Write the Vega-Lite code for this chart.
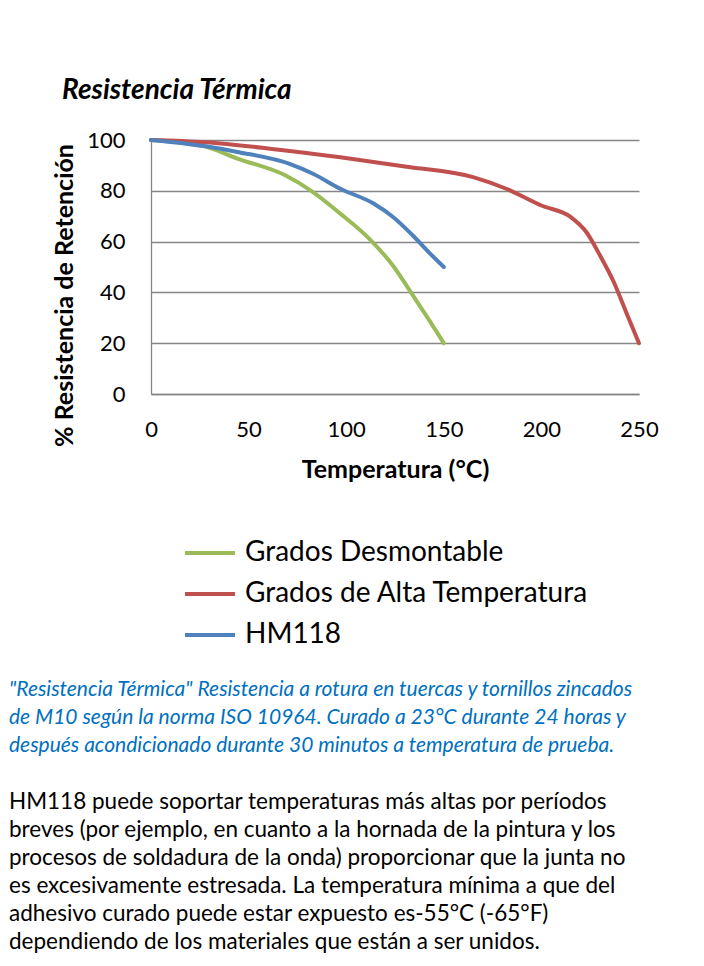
{
  "$schema": "https://vega.github.io/schema/vega-lite/v6.json",
  "autosize": {"type": "pad"},
  "padding": {"left": 9, "top": 77, "right": 10, "bottom": 8},
  "background": "white",
  "bounds": "flush",
  "spacing": 282,
  "datasets": {
    "curvas": [
      {"serie": "Grados Desmontable", "temperatura": 0, "retencion": 100},
      {"serie": "Grados Desmontable", "temperatura": 26, "retencion": 97.8},
      {"serie": "Grados Desmontable", "temperatura": 45, "retencion": 92.5},
      {"serie": "Grados Desmontable", "temperatura": 69, "retencion": 86},
      {"serie": "Grados Desmontable", "temperatura": 83, "retencion": 79.5},
      {"serie": "Grados Desmontable", "temperatura": 97, "retencion": 71},
      {"serie": "Grados Desmontable", "temperatura": 112, "retencion": 61},
      {"serie": "Grados Desmontable", "temperatura": 124, "retencion": 50.5},
      {"serie": "Grados Desmontable", "temperatura": 134, "retencion": 39},
      {"serie": "Grados Desmontable", "temperatura": 143, "retencion": 28.5},
      {"serie": "Grados Desmontable", "temperatura": 150, "retencion": 20},
      {"serie": "Grados de Alta Temperatura", "temperatura": 0, "retencion": 100},
      {"serie": "Grados de Alta Temperatura", "temperatura": 28, "retencion": 99.1},
      {"serie": "Grados de Alta Temperatura", "temperatura": 62, "retencion": 96.5},
      {"serie": "Grados de Alta Temperatura", "temperatura": 97, "retencion": 93.2},
      {"serie": "Grados de Alta Temperatura", "temperatura": 131, "retencion": 89.5},
      {"serie": "Grados de Alta Temperatura", "temperatura": 165, "retencion": 85.4},
      {"serie": "Grados de Alta Temperatura", "temperatura": 182, "retencion": 80.8},
      {"serie": "Grados de Alta Temperatura", "temperatura": 200, "retencion": 74.2},
      {"serie": "Grados de Alta Temperatura", "temperatura": 215, "retencion": 69.7},
      {"serie": "Grados de Alta Temperatura", "temperatura": 223, "retencion": 63.8},
      {"serie": "Grados de Alta Temperatura", "temperatura": 230, "retencion": 54.6},
      {"serie": "Grados de Alta Temperatura", "temperatura": 237, "retencion": 44.2},
      {"serie": "Grados de Alta Temperatura", "temperatura": 244, "retencion": 31.1},
      {"serie": "Grados de Alta Temperatura", "temperatura": 250, "retencion": 20},
      {"serie": "HM118", "temperatura": 0, "retencion": 100},
      {"serie": "HM118", "temperatura": 28, "retencion": 97.5},
      {"serie": "HM118", "temperatura": 45, "retencion": 95.2},
      {"serie": "HM118", "temperatura": 71, "retencion": 90.6},
      {"serie": "HM118", "temperatura": 83, "retencion": 86.7},
      {"serie": "HM118", "temperatura": 97, "retencion": 80.8},
      {"serie": "HM118", "temperatura": 114, "retencion": 75},
      {"serie": "HM118", "temperatura": 124, "retencion": 69.7},
      {"serie": "HM118", "temperatura": 134, "retencion": 62.5},
      {"serie": "HM118", "temperatura": 143, "retencion": 55.3},
      {"serie": "HM118", "temperatura": 150, "retencion": 50}
    ],
    "textos": [
      {"linea": 0, "tipo": "nota", "texto": "\"Resistencia Térmica\" Resistencia a rotura en tuercas y tornillos zincados"},
      {"linea": 1, "tipo": "nota", "texto": "de M10 según la norma ISO 10964. Curado a 23°C durante 24 horas y"},
      {"linea": 2, "tipo": "nota", "texto": "después acondicionado durante 30 minutos a temperatura de prueba."},
      {"linea": 4, "tipo": "parrafo", "texto": "HM118 puede soportar temperaturas más altas por períodos"},
      {"linea": 5, "tipo": "parrafo", "texto": "breves (por ejemplo, en cuanto a la hornada de la pintura y los"},
      {"linea": 6, "tipo": "parrafo", "texto": "procesos de soldadura de la onda) proporcionar que la junta no"},
      {"linea": 7, "tipo": "parrafo", "texto": "es excesivamente estresada. La temperatura mínima a que del"},
      {"linea": 8, "tipo": "parrafo", "texto": "adhesivo curado puede estar expuesto es-55°C (-65°F)"},
      {"linea": 9, "tipo": "parrafo", "texto": "dependiendo de los materiales que están a ser unidos."}
    ]
  },
  "vconcat": [
    {
      "width": 488,
      "height": 254,
      "title": {
        "text": "Resistencia Térmica",
        "anchor": "start",
        "frame": "group",
        "dx": -89,
        "offset": 2,
        "baseline": "alphabetic",
        "font": "Lato",
        "fontSize": 28,
        "fontStyle": "italic",
        "fontWeight": "bold",
        "color": "#000000"
      },
      "data": {"name": "curvas"},
      "mark": {"type": "line", "interpolate": "monotone", "strokeWidth": 4, "strokeCap": "round", "strokeJoin": "round"},
      "encoding": {
        "x": {
          "field": "temperatura",
          "type": "quantitative",
          "scale": {"domain": [0, 250], "nice": false, "zero": false},
          "axis": {
            "values": [0, 50, 100, 150, 200, 250],
            "title": "Temperatura (°C)",
            "grid": false,
            "labelPadding": 25,
            "titlePadding": 17,
            "labelFlush": false,
            "labelOverlap": false
          }
        },
        "y": {
          "field": "retencion",
          "type": "quantitative",
          "scale": {"domain": [0, 100], "nice": false},
          "axis": {
            "values": [0, 20, 40, 60, 80, 100],
            "title": "% Resistencia de Retención",
            "titleY": 155,
            "grid": true,
            "labelPadding": 26,
            "titlePadding": 9,
            "labelFlush": false,
            "labelOverlap": false
          }
        },
        "color": {
          "field": "serie",
          "type": "nominal",
          "scale": {
            "domain": ["Grados Desmontable", "Grados de Alta Temperatura", "HM118"],
            "range": ["#9BBB59", "#C0504D", "#4F81BD"]
          },
          "legend": {
            "orient": "none",
            "legendX": 32,
            "legendY": 386,
            "title": null,
            "symbolType": "stroke",
            "symbolSize": 2500,
            "symbolStrokeWidth": 4,
            "labelFont": "Lato",
            "labelFontSize": 28,
            "labelColor": "#000000",
            "labelOffset": 8,
            "labelLimit": 0,
            "rowPadding": 0,
            "padding": 0
          }
        }
      }
    },
    {
      "width": 488,
      "height": 280,
      "data": {"name": "textos"},
      "encoding": {
        "x": {"value": 0},
        "y": {
          "field": "linea",
          "type": "ordinal",
          "scale": {"domain": [0, 1, 2, 3, 4, 5, 6, 7, 8, 9], "paddingInner": 0, "paddingOuter": 0},
          "axis": null
        },
        "text": {"field": "texto"}
      },
      "layer": [
        {
          "transform": [{"filter": "datum.tipo === 'nota'"}],
          "mark": {"type": "text", "align": "left", "baseline": "middle", "dx": -142, "font": "Lato", "fontSize": 21, "fontStyle": "italic", "color": "#0070C0"}
        },
        {
          "transform": [{"filter": "datum.tipo === 'parrafo'"}],
          "mark": {"type": "text", "align": "left", "baseline": "middle", "dx": -142, "font": "Lato", "fontSize": 22.5, "color": "#000000"}
        }
      ]
    }
  ],
  "config": {
    "view": {"stroke": null},
    "axis": {
      "labelFont": "Lato",
      "labelFontSize": 22,
      "labelColor": "#000000",
      "titleFont": "Lato",
      "titleFontSize": 25,
      "titleFontWeight": "bold",
      "titleColor": "#000000",
      "domainColor": "#868686",
      "domainWidth": 1.3,
      "gridColor": "#868686",
      "gridWidth": 1.3,
      "gridOpacity": 1,
      "ticks": false,
      "tickSize": 0
    }
  }
}
